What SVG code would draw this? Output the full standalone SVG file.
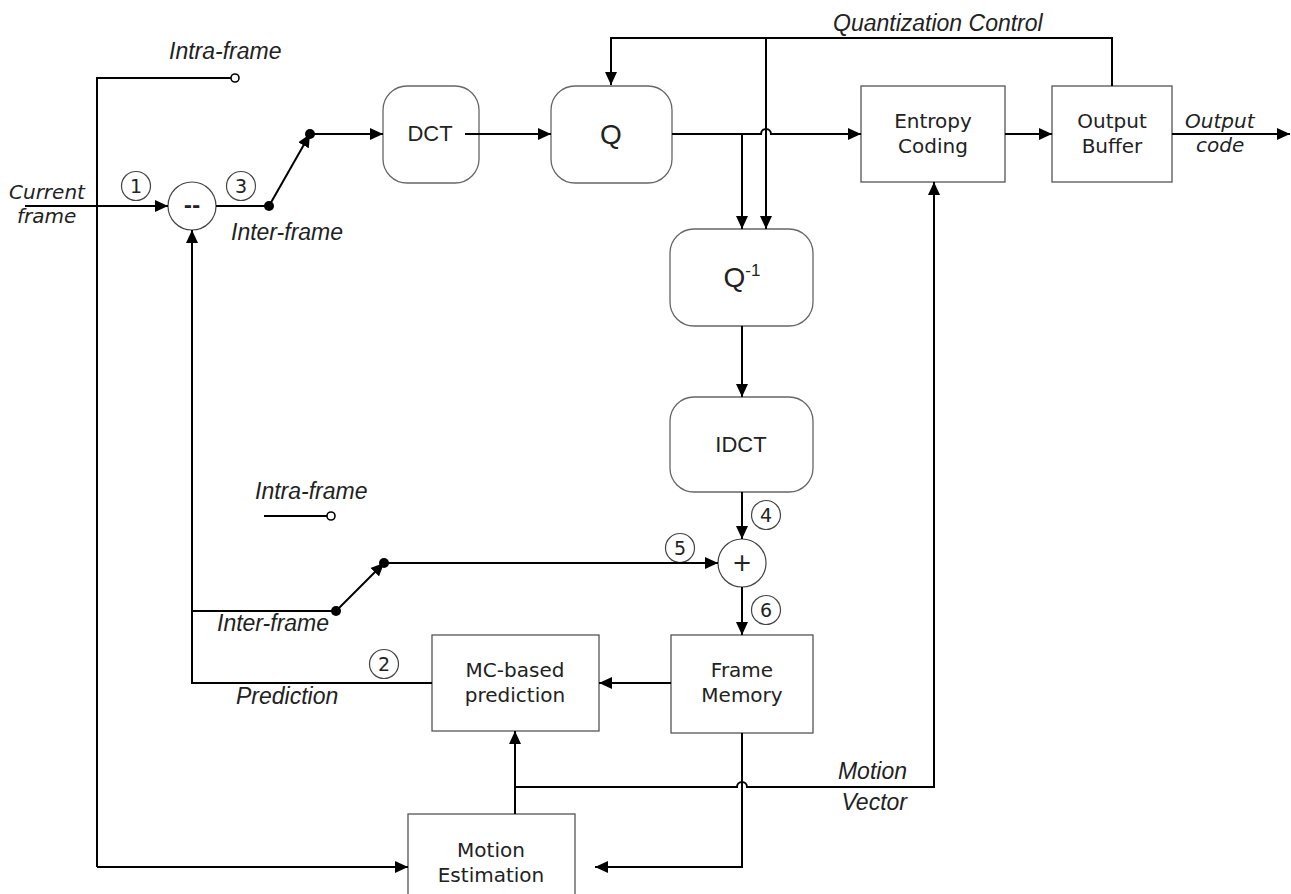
<svg xmlns="http://www.w3.org/2000/svg" width="1291" height="894" viewBox="0 0 1291 894">
<style>
.box{fill:#fff;stroke:#555;stroke-width:1.3}
.rbox{fill:#fff;stroke:#666;stroke-width:1.3}
.w{fill:none;stroke:#000;stroke-width:2}
.wa{fill:none;stroke:#000;stroke-width:2;marker-end:url(#ah)}
.num{fill:#fff;stroke:#444;stroke-width:1.2}
.t{font-family:"DejaVu Sans",Verdana,sans-serif;font-size:20px;fill:#222;text-anchor:middle}
.ta{font-family:"Liberation Sans",Arial,sans-serif;font-size:22px;fill:#222;text-anchor:middle}
.lab{font-family:"Liberation Sans",Arial,sans-serif;font-size:23px;font-style:italic;fill:#222}
.labv{font-family:"DejaVu Sans",Verdana,sans-serif;font-size:20px;font-style:italic;fill:#222}
.n{font-family:"DejaVu Sans",Verdana,sans-serif;font-size:19px;fill:#222;text-anchor:middle}
.dot{fill:#000}
.open{fill:#fff;stroke:#000;stroke-width:1.6}
</style>
<defs>
<marker id="ah" markerUnits="userSpaceOnUse" markerWidth="14" markerHeight="12" refX="13" refY="6" orient="auto">
<path d="M0,0 L13,6 L0,12 z" fill="#000"/>
</marker>
</defs>
<rect width="1291" height="894" fill="#fff"/>

<g id="num1"><circle class="num" cx="136" cy="186" r="14.5"/><text class="n" x="136" y="193">1</text></g>
<g id="num2"><circle class="num" cx="384" cy="664" r="14.5"/><text class="n" x="384" y="671">2</text></g>
<g id="num3"><circle class="num" cx="241" cy="186" r="14.5"/><text class="n" x="241" y="193">3</text></g>
<g id="num4"><circle class="num" cx="766" cy="515" r="14.5"/><text class="n" x="766" y="522">4</text></g>
<g id="num5"><circle class="num" cx="680" cy="548" r="14.5"/><text class="n" x="680" y="555">5</text></g>
<g id="num6"><circle class="num" cx="766" cy="610" r="14.5"/><text class="n" x="766" y="617">6</text></g>

<g id="minus"><circle class="num" cx="192" cy="206" r="24"/><text class="t" x="192" y="212" style="font-weight:bold">--</text></g>
<g id="plus"><circle class="num" cx="742" cy="563" r="24"/><text class="t" x="742" y="571" style="font-size:24px">+</text></g>

<g id="dct"><rect class="rbox" x="383" y="86" width="96" height="97" rx="24"/><text class="ta" x="430" y="141">DCT</text></g>
<g id="q"><rect class="rbox" x="551" y="86" width="121" height="97" rx="24"/><text class="ta" x="611" y="144" style="font-size:28px">Q</text></g>
<g id="qinv"><rect class="rbox" x="670" y="229" width="143" height="97" rx="24"/><text class="ta" x="742" y="287" style="font-size:28px">Q<tspan dy="-11" style="font-size:17px">-1</tspan></text></g>
<g id="idct"><rect class="rbox" x="670" y="397" width="143" height="95" rx="24"/><text class="ta" x="741" y="452">IDCT</text></g>
<g id="entropy"><rect class="box" x="861" y="86" width="144" height="96"/><text class="t" x="933" y="128">Entropy</text><text class="t" x="933" y="153">Coding</text></g>
<g id="outbuf"><rect class="box" x="1052" y="86" width="120" height="96"/><text class="t" x="1112" y="128">Output</text><text class="t" x="1112" y="153">Buffer</text></g>
<g id="mc"><rect class="box" x="432" y="635" width="167" height="96"/><text class="t" x="515" y="677">MC-based</text><text class="t" x="515" y="702">prediction</text></g>
<g id="fm"><rect class="box" x="671" y="635" width="142" height="98"/><text class="t" x="742" y="677">Frame</text><text class="t" x="742" y="702">Memory</text></g>
<g id="me"><rect class="box" x="408" y="814" width="167" height="100"/><text class="t" x="491" y="857">Motion</text><text class="t" x="491" y="882">Estimation</text></g>

<g id="connectors">
<path class="wa" d="M25,206 H168"/>
<path class="w" d="M216,206 H269"/>
<path class="wa" d="M269,206 L310,134"/>
<path class="wa" d="M310,134 H383"/>
<path class="wa" d="M465,134 H551"/>
<path class="wa" d="M672,134 H761 A5,5 0 0 1 771,134 H861"/>
<path class="wa" d="M742,134 V229"/>
<path class="wa" d="M1112,86 V38 H611 V85"/>
<path class="wa" d="M766,38 V229"/>
<path class="wa" d="M1005,134 H1052"/>
<path class="wa" d="M1172,134 H1290"/>
<path class="wa" d="M742,326 V397"/>
<path class="wa" d="M742,492 V539"/>
<path class="wa" d="M742,587 V635"/>
<path class="wa" d="M671,683 H599"/>
<path class="wa" d="M432,683 H192 V230"/>
<path class="w" d="M192,611 H336"/>
<path class="wa" d="M336,611 L384,563"/>
<path class="wa" d="M384,563 H718"/>
<path class="w" d="M264,516 H327"/>
<path class="w" d="M231,78 H97 V867"/>
<path class="wa" d="M97,867 H408"/>
<path class="wa" d="M515,814 V731"/>
<path class="wa" d="M515,787 H737 A5,5 0 0 1 747,787 H934 V182"/>
<path class="wa" d="M742,733 V867 H595"/>
<circle class="open" cx="235" cy="78" r="4"/>
<circle class="open" cx="331" cy="516" r="4"/>
<circle class="dot" cx="269" cy="206" r="5"/>
<circle class="dot" cx="310" cy="134" r="5"/>
<circle class="dot" cx="336" cy="611" r="5"/>
<circle class="dot" cx="384" cy="563" r="5"/>
</g>

<g id="labels">
<text class="lab" x="169" y="59">Intra-frame</text>
<text class="lab" x="231" y="240">Inter-frame</text>
<text class="labv" x="9" y="199">Current</text>
<text class="labv" x="17" y="223">frame</text>
<text class="lab" x="833" y="31">Quantization Control</text>
<text class="labv" x="1185" y="128">Output</text>
<text class="labv" x="1196" y="152">code</text>
<text class="lab" x="255" y="499">Intra-frame</text>
<text class="lab" x="217" y="631">Inter-frame</text>
<text class="lab" x="236" y="704">Prediction</text>
<text class="lab" x="907" y="779" text-anchor="end">Motion</text>
<text class="lab" x="907" y="810" text-anchor="end">Vector</text>
</g>
</svg>
